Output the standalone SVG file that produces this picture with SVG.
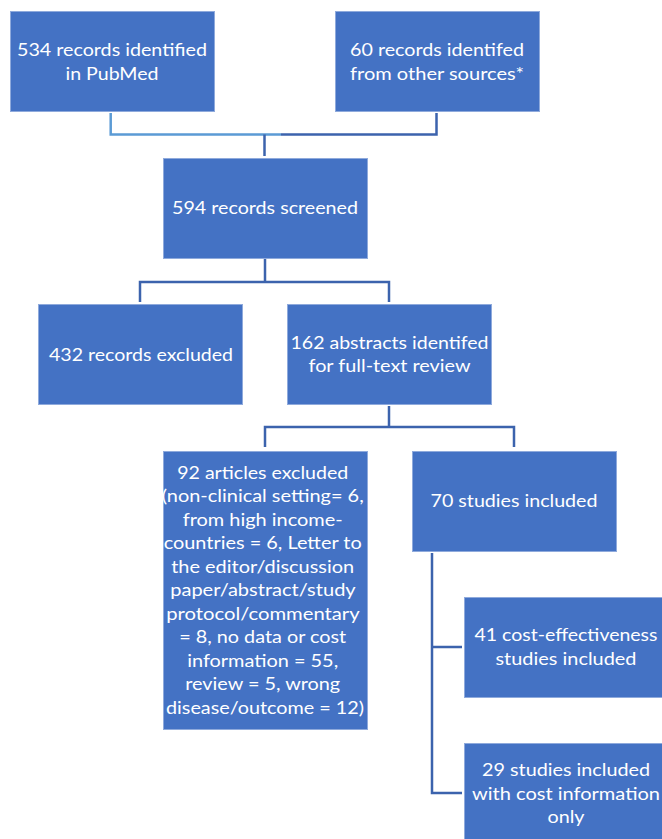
<svg xmlns="http://www.w3.org/2000/svg" width="662" height="839" viewBox="0 0 662 839">
<style>
.box{fill:#4472C4;stroke:#8FAADC;stroke-width:1}
.t{font-family:Lato,"Open Sans","Liberation Sans",sans-serif;font-size:18px;fill:#ffffff;text-anchor:middle}
.c{fill:none;stroke:#3C63AD;stroke-width:2.5}
.cl{fill:none;stroke:#5B9BD5;stroke-width:2.5}
</style>
<rect width="662" height="839" fill="#ffffff"/>
<g id="connectors">
<path class="cl" d="M110.7 113 V134.5 H281"/>
<path class="c" d="M281 134.5 H436.5 V113"/>
<path class="c" d="M264.5 134.5 V156"/>
<path class="c" d="M265 259 V282 M140 302 V282 H389 V302"/>
<path class="c" d="M389 406 V427 M265 447 V427 H514 V447"/>
<path class="c" d="M432 553 V793 H462 M432 647 H462"/>
</g>
<g id="n1"><rect class="box" x="10.5" y="11.5" width="204" height="100"/>
<text class="t"><tspan x="112" y="56" textLength="190" lengthAdjust="spacingAndGlyphs">534 records identified</tspan><tspan x="112" y="80" textLength="93" lengthAdjust="spacingAndGlyphs">in PubMed</tspan></text></g>
<g id="n2"><rect class="box" x="335.5" y="11.5" width="204" height="100"/>
<text class="t"><tspan x="437" y="56" textLength="174" lengthAdjust="spacingAndGlyphs">60 records identifed</tspan><tspan x="437" y="80" textLength="174" lengthAdjust="spacingAndGlyphs">from other sources*</tspan></text></g>
<g id="n3"><rect class="box" x="163.5" y="158.5" width="204" height="100"/>
<text class="t"><tspan x="265" y="214" textLength="186" lengthAdjust="spacingAndGlyphs">594 records screened</tspan></text></g>
<g id="n4"><rect class="box" x="38.5" y="304.5" width="204" height="100"/>
<text class="t"><tspan x="141" y="361" textLength="184" lengthAdjust="spacingAndGlyphs">432 records excluded</tspan></text></g>
<g id="n5"><rect class="box" x="287.5" y="304.5" width="204" height="100"/>
<text class="t"><tspan x="389.5" y="349" textLength="198" lengthAdjust="spacingAndGlyphs">162 abstracts identifed</tspan><tspan x="389.5" y="372" textLength="162" lengthAdjust="spacingAndGlyphs">for full-text review</tspan></text></g>
<g id="n6"><rect class="box" x="163.5" y="451.5" width="204" height="278"/>
<text class="t">
<tspan x="265" y="478.5" textLength="171" lengthAdjust="spacingAndGlyphs">92 articles excluded</tspan>
<tspan x="265" y="502" textLength="202" lengthAdjust="spacingAndGlyphs">(non-clinical setting= 6,</tspan>
<tspan x="265" y="525.6" textLength="160" lengthAdjust="spacingAndGlyphs">from high income-</tspan>
<tspan x="265" y="549.1" textLength="198" lengthAdjust="spacingAndGlyphs">countries = 6, Letter to</tspan>
<tspan x="265" y="572.7" textLength="183" lengthAdjust="spacingAndGlyphs">the editor/discussion</tspan>
<tspan x="265" y="596.2" textLength="185" lengthAdjust="spacingAndGlyphs">paper/abstract/study</tspan>
<tspan x="265" y="619.8" textLength="193" lengthAdjust="spacingAndGlyphs">protocol/commentary</tspan>
<tspan x="265" y="643.3" textLength="167" lengthAdjust="spacingAndGlyphs">= 8, no data or cost</tspan>
<tspan x="265" y="666.9" textLength="151" lengthAdjust="spacingAndGlyphs">information = 55,</tspan>
<tspan x="265" y="690.4" textLength="155" lengthAdjust="spacingAndGlyphs">review = 5, wrong</tspan>
<tspan x="265" y="714" textLength="198" lengthAdjust="spacingAndGlyphs">disease/outcome = 12)</tspan>
</text></g>
<g id="n7"><rect class="box" x="412.5" y="451.5" width="204" height="100"/>
<text class="t"><tspan x="514" y="507" textLength="167" lengthAdjust="spacingAndGlyphs">70 studies included</tspan></text></g>
<g id="n8"><rect class="box" x="464.5" y="597.5" width="204" height="100"/>
<text class="t"><tspan x="566" y="641" textLength="183" lengthAdjust="spacingAndGlyphs">41 cost-effectiveness</tspan><tspan x="566" y="665" textLength="141" lengthAdjust="spacingAndGlyphs">studies included</tspan></text></g>
<g id="n9"><rect class="box" x="464.5" y="743.5" width="204" height="100"/>
<text class="t"><tspan x="566" y="776" textLength="168" lengthAdjust="spacingAndGlyphs">29 studies included</tspan><tspan x="566" y="799.5" textLength="188" lengthAdjust="spacingAndGlyphs">with cost information</tspan><tspan x="566" y="823" textLength="37" lengthAdjust="spacingAndGlyphs">only</tspan></text></g>
</svg>
